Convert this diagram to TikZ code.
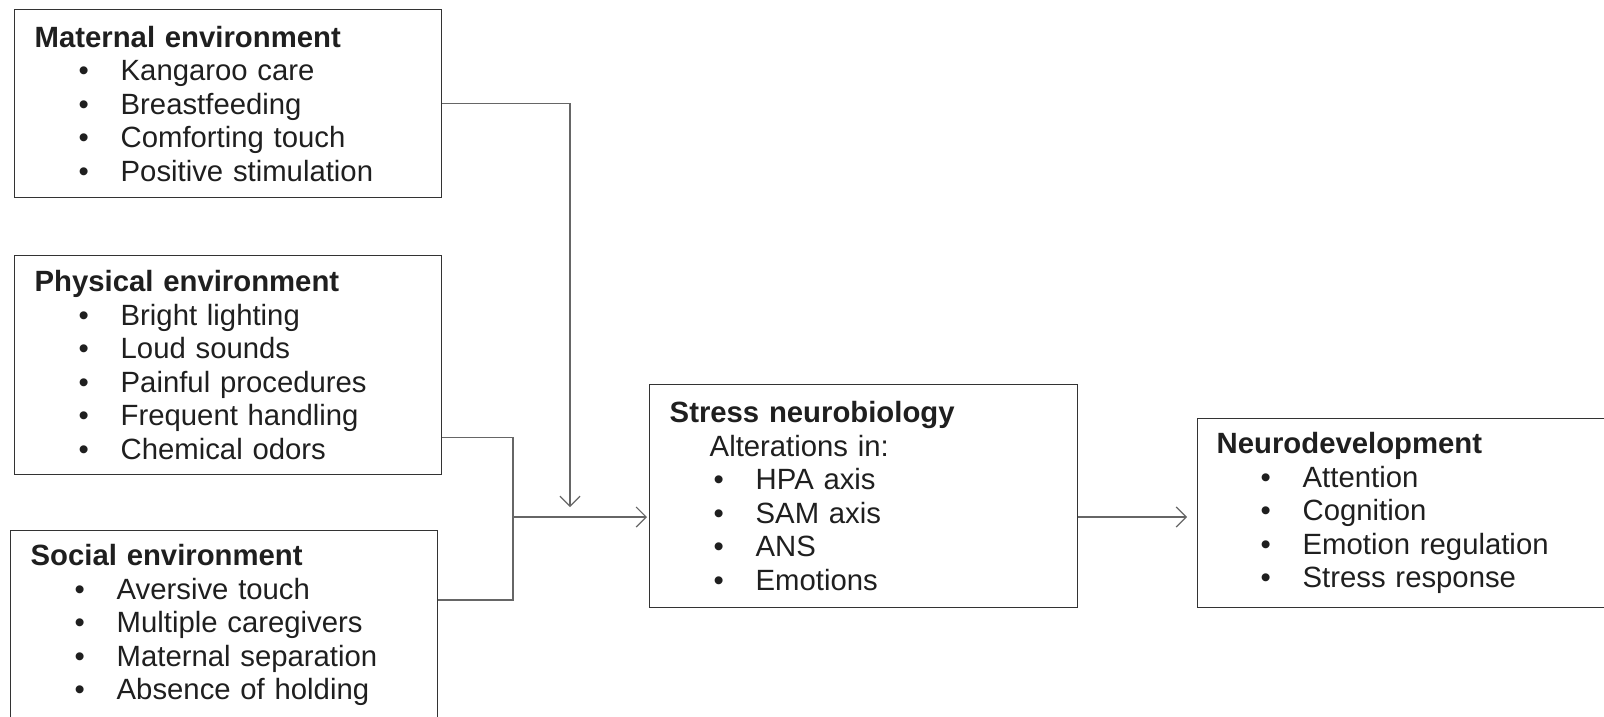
\documentclass[tikz,border=0pt]{standalone}
\usepackage{fontspec}
\setmainfont{Liberation Sans}
\usetikzlibrary{arrows.meta}

\definecolor{boxline}{gray}{0.2}
\definecolor{linkline}{gray}{0.4}
\definecolor{boxtext}{gray}{0.12}

\newcommand{\bul}[1]{\hspace*{44pt}\makebox[42pt][l]{•}#1}

\tikzset{
  envbox/.style={draw=boxline, line width=1.4pt, anchor=north west, align=left,
    inner xsep=20pt, inner ysep=0pt, text=boxtext,
    font=\fontsize{29.3}{33.5}\selectfont},
  link/.style={draw=linkline, line width=1.2pt},
  tip/.style={-{Straight Barb[length=10pt,width=20pt]}}
}

\begin{document}
\begin{tikzpicture}[x=1pt,y=-1pt]

\pgfmathsetmacro{\boxwidth}{427}
\pgfmathsetmacro{\textw}{\boxwidth-40}
\pgfmathsetmacro{\splitx}{513}
\pgfmathsetmacro{\linky}{517}

\useasboundingbox (0,0) rectangle (1604,716);

% Input boxes:
\node[envbox, text width=\textw pt, minimum height=188pt] (maternal) at (14,9)
  {\textbf{Maternal environment}\\ \bul{Kangaroo care}\\ \bul{Breastfeeding}\\
   \bul{Comforting touch}\\ \bul{Positive stimulation}};
\node[envbox, text width=\textw pt, minimum height=219pt] (physical) at (14,255)
  {\textbf{Physical environment}\\ \bul{Bright lighting}\\ \bul{Loud sounds}\\
   \bul{Painful procedures}\\ \bul{Frequent handling}\\ \bul{Chemical odors}};
\node[envbox, text width=\textw pt, minimum height=189pt] (social) at (10,530)
  {\textbf{Social environment}\\ \bul{Aversive touch}\\ \bul{Multiple caregivers}\\
   \bul{Maternal separation}\\ \bul{Absence of holding}};

% Middle and output boxes:
\node[envbox, text width=388pt, minimum height=223pt] (stress) at (649,384)
  {\textbf{Stress neurobiology}\\ \hspace*{40pt}Alterations in:\\ \bul{HPA axis}\\
   \bul{SAM axis}\\ \bul{ANS}\\ \bul{Emotions}};
\node[envbox, inner xsep=19pt, text width=385pt, minimum height=189pt] (neuro) at (1197,418)
  {\textbf{Neurodevelopment}\\ \bul{Attention}\\ \bul{Cognition}\\
   \bul{Emotion regulation}\\ \bul{Stress response}};

\coordinate (split) at (\splitx,\linky);
\coordinate (drop) at (570,507);

% Connectors:
\draw[link, tip] (maternal.east) -| (drop);
\draw[link] ([yshift=38pt]physical.south east) -| (split) |- ([yshift=-70pt]social.north east);
\draw[link, tip, shorten >=2pt] (split) -- (split -| stress.west);
\draw[link, tip, shorten >=10pt] (stress.east |- split) -- (neuro.west |- split);

\end{tikzpicture}
\end{document}
